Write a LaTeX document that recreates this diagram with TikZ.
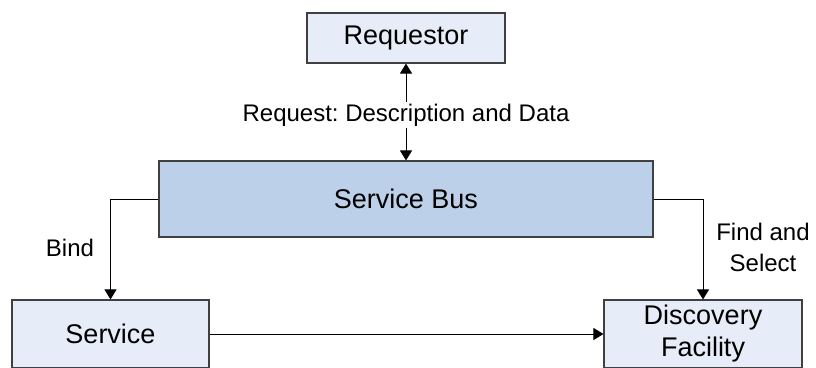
\documentclass[tikz,border=0pt]{standalone}
\usepackage{fontspec}
\setmainfont{Liberation Sans}
\usetikzlibrary{arrows.meta}
\frenchspacing
\definecolor{boxlight}{HTML}{E7EDF8}
\definecolor{boxbus}{HTML}{BDD0E9}
\definecolor{boxedge}{HTML}{404040}
\tikzset{
  block/.style={draw=boxedge, line width=1.1pt, fill=boxlight, inner sep=0pt,
    align=center, font=\fontsize{27}{32}\selectfont},
  link/.style={draw=black, line width=0.9pt, -{Triangle[length=10pt,width=12pt]}},
  lbl/.style={font=\fontsize{24}{31}\selectfont, align=center, inner sep=2pt}
}
\begin{document}
\begin{tikzpicture}[x=1pt,y=-1pt]
  \useasboundingbox (0,0) rectangle (816,367);
  \node[block, minimum width=198pt, minimum height=50pt] (req) at (406,38) {Requestor};
  \node[block, fill=boxbus, minimum width=494pt, minimum height=76pt] (bus) at (406,199) {Service Bus};
  \node[block, minimum width=197pt, minimum height=68pt] (svc) at (110.5,334) {Service};
  \node[block, minimum width=198pt, minimum height=68pt] (disc) at (703,334) {Discovery\\Facility};

  % request channel, arrows both ways around the label
  \node[lbl, fill=white] (reqlbl) at (406,115) {Request: Description and Data};
  \draw[link] (reqlbl.north) -- (req.south);
  \draw[link] (reqlbl.south) -- (bus.north);

  \draw[link] (bus.west) -| (svc.north);
  \node[lbl] (bind) at (70,248) {Bind};
  \draw[link] (bus.east) -| (disc.north);
  \node[lbl] (find) at (763,247) {Find and\\Select};
  \draw[link] (svc.east) -- (disc.west);
\end{tikzpicture}
\end{document}
